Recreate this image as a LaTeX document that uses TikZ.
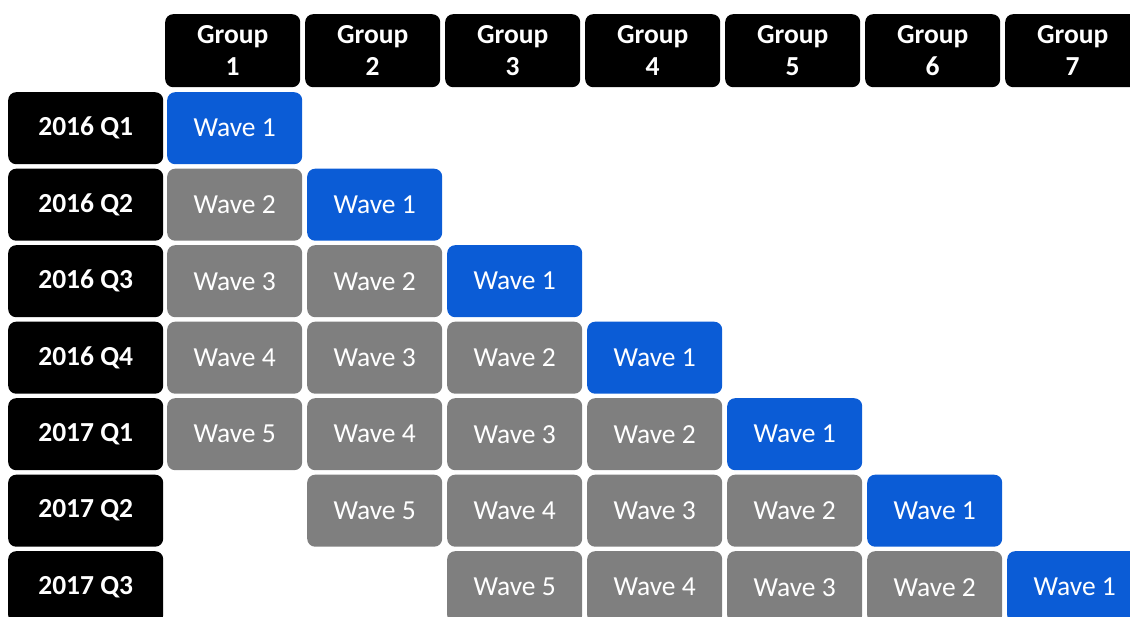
\documentclass[tikz,border=0pt]{standalone}
\usepackage{fontspec}
\setmainfont{Carlito}
\definecolor{waveblue}{RGB}{11,92,214}
\definecolor{wavegray}{RGB}{127,127,127}
\tikzset{
  cellbox/.style={rectangle, rounded corners=8pt, inner sep=0pt, anchor=north west,
    minimum width=135pt, minimum height=72pt, text=white,
    font=\fontsize{27.5}{31}\selectfont},
  headbox/.style={cellbox, fill=black, minimum height=73pt, align=center,
    font=\fontsize{27.5}{32}\selectfont\bfseries},
  rowbox/.style={cellbox, fill=black, minimum width=155pt,
    font=\fontsize{27.5}{31}\selectfont\bfseries},
  bluecell/.style={cellbox, fill=waveblue},
  graycell/.style={cellbox, fill=wavegray},
}
\begin{document}
\begin{tikzpicture}[x=1pt,y=-1pt]
\useasboundingbox (0,0) rectangle (1130,617);
\clip (0,0) rectangle (1130,617);
% group headers
\foreach \j in {1,...,7}{
  \node[headbox] (g\j) at ({165+140*(\j-1)},14) {Group\\\j};
}
% row labels
\foreach \lbl [count=\i] in {2016 Q1,2016 Q2,2016 Q3,2016 Q4,2017 Q1,2017 Q2,2017 Q3}{
  \node[rowbox] (r\i) at (8,{92+76.5*(\i-1)}) {\lbl};
}
% wave cells
\foreach \i in {1,...,7}{
  \foreach \j in {1,...,7}{
    \pgfmathtruncatemacro{\w}{\i-\j+1}
    \ifnum\w>0 \ifnum\w<6
      \ifnum\w=1
        \node[bluecell] (c\i-\j) at ({167+140*(\j-1)},{92+76.5*(\i-1)}) {Wave \w};
      \else
        \node[graycell] (c\i-\j) at ({167+140*(\j-1)},{92+76.5*(\i-1)}) {Wave \w};
      \fi
    \fi\fi
  }
}
\end{tikzpicture}
\end{document}
